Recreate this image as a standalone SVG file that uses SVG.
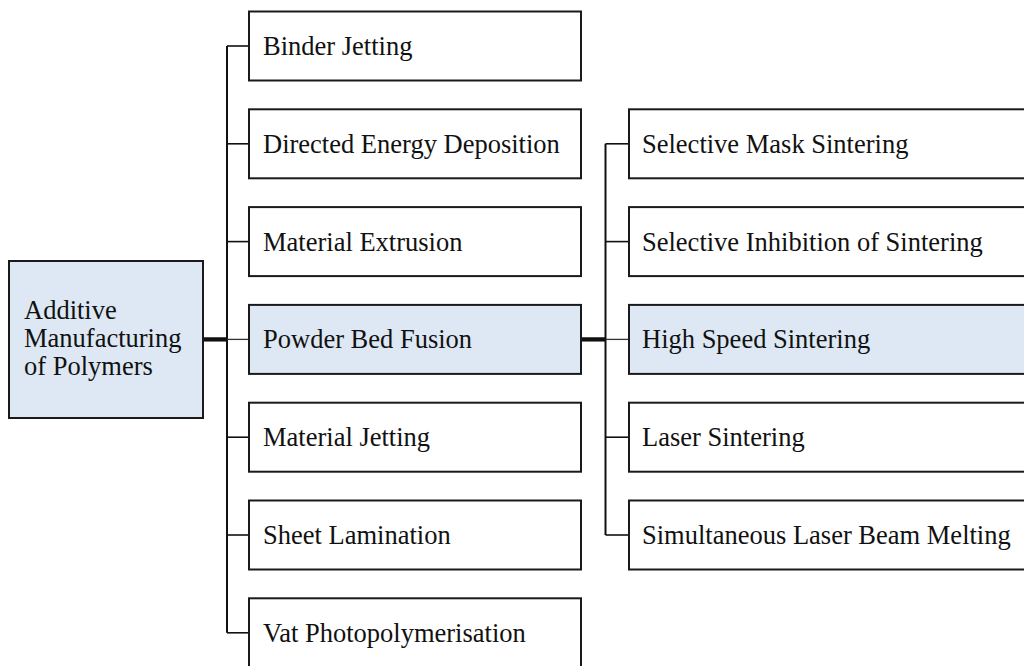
<svg xmlns="http://www.w3.org/2000/svg" width="1024" height="666" viewBox="0 0 1024 666">
  <style>
    .box { fill: #ffffff; stroke: #1a1a1a; stroke-width: 2; }
    .hl { fill: #dde8f4; }
    .lbl { font-family: "Liberation Serif", "Times New Roman", serif; font-size: 26.5px; fill: #111111; }
    .trunk { stroke: #111111; stroke-width: 2; fill: none; }
    .tick { stroke: #111111; stroke-width: 1.6; fill: none; }
    .thick { stroke: #111111; stroke-width: 4.3; fill: none; }
    .thin { stroke: #333333; stroke-width: 1.3; fill: none; }
  </style>
  <rect width="1024" height="666" fill="#ffffff"/>

  <!-- connectors -->
  <g id="connectors">
    <!-- root to first level -->
    <line class="thick" x1="203" y1="339.4" x2="227" y2="339.4"/>
    <line class="trunk" x1="227" y1="46" x2="227" y2="632.8"/>
    <line class="tick" x1="227" y1="46" x2="249" y2="46"/>
    <line class="tick" x1="227" y1="143.8" x2="249" y2="143.8"/>
    <line class="tick" x1="227" y1="241.6" x2="249" y2="241.6"/>
    <line class="thin" x1="227" y1="339.4" x2="249" y2="339.4"/>
    <line class="tick" x1="227" y1="437.2" x2="249" y2="437.2"/>
    <line class="tick" x1="227" y1="535" x2="249" y2="535"/>
    <line class="tick" x1="227" y1="632.8" x2="249" y2="632.8"/>
    <!-- powder bed fusion to sub-processes -->
    <line class="thick" x1="581" y1="339.4" x2="605.5" y2="339.4"/>
    <line class="trunk" x1="605.5" y1="143.8" x2="605.5" y2="535"/>
    <line class="tick" x1="605.5" y1="143.8" x2="629" y2="143.8"/>
    <line class="tick" x1="605.5" y1="241.6" x2="629" y2="241.6"/>
    <line class="thin" x1="605.5" y1="339.4" x2="629" y2="339.4"/>
    <line class="tick" x1="605.5" y1="437.2" x2="629" y2="437.2"/>
    <line class="tick" x1="605.5" y1="535" x2="629" y2="535"/>
  </g>

  <!-- root -->
  <g id="root">
    <rect class="box hl" x="9" y="261" width="194" height="157"/>
    <text class="lbl" x="24" y="319">Additive</text>
    <text class="lbl" x="24" y="347">Manufacturing</text>
    <text class="lbl" x="24" y="375">of Polymers</text>
  </g>

  <!-- process categories -->
  <g id="binder-jetting">
    <rect class="box" x="249" y="11.5" width="332" height="69"/>
    <text class="lbl" x="263" y="55">Binder Jetting</text>
  </g>
  <g id="directed-energy-deposition">
    <rect class="box" x="249" y="109.3" width="332" height="69"/>
    <text class="lbl" x="263" y="152.8">Directed Energy Deposition</text>
  </g>
  <g id="material-extrusion">
    <rect class="box" x="249" y="207.1" width="332" height="69"/>
    <text class="lbl" x="263" y="250.6">Material Extrusion</text>
  </g>
  <g id="powder-bed-fusion">
    <rect class="box hl" x="249" y="304.9" width="332" height="69"/>
    <text class="lbl" x="263" y="348.4">Powder Bed Fusion</text>
  </g>
  <g id="material-jetting">
    <rect class="box" x="249" y="402.7" width="332" height="69"/>
    <text class="lbl" x="263" y="446.2">Material Jetting</text>
  </g>
  <g id="sheet-lamination">
    <rect class="box" x="249" y="500.5" width="332" height="69"/>
    <text class="lbl" x="263" y="544">Sheet Lamination</text>
  </g>
  <g id="vat-photopolymerisation">
    <rect class="box" x="249" y="598.3" width="332" height="69"/>
    <text class="lbl" x="263" y="641.8">Vat Photopolymerisation</text>
  </g>

  <!-- powder bed fusion variants -->
  <g id="selective-mask-sintering">
    <rect class="box" x="629" y="109.3" width="400" height="69"/>
    <text class="lbl" x="642" y="152.8">Selective Mask Sintering</text>
  </g>
  <g id="selective-inhibition-sintering">
    <rect class="box" x="629" y="207.1" width="400" height="69"/>
    <text class="lbl" x="642" y="250.6">Selective Inhibition of Sintering</text>
  </g>
  <g id="high-speed-sintering">
    <rect class="box hl" x="629" y="304.9" width="400" height="69"/>
    <text class="lbl" x="642" y="348.4">High Speed Sintering</text>
  </g>
  <g id="laser-sintering">
    <rect class="box" x="629" y="402.7" width="400" height="69"/>
    <text class="lbl" x="642" y="446.2">Laser Sintering</text>
  </g>
  <g id="simultaneous-laser-beam-melting">
    <rect class="box" x="629" y="500.5" width="400" height="69"/>
    <text class="lbl" x="642" y="544">Simultaneous Laser Beam Melting</text>
  </g>
</svg>
